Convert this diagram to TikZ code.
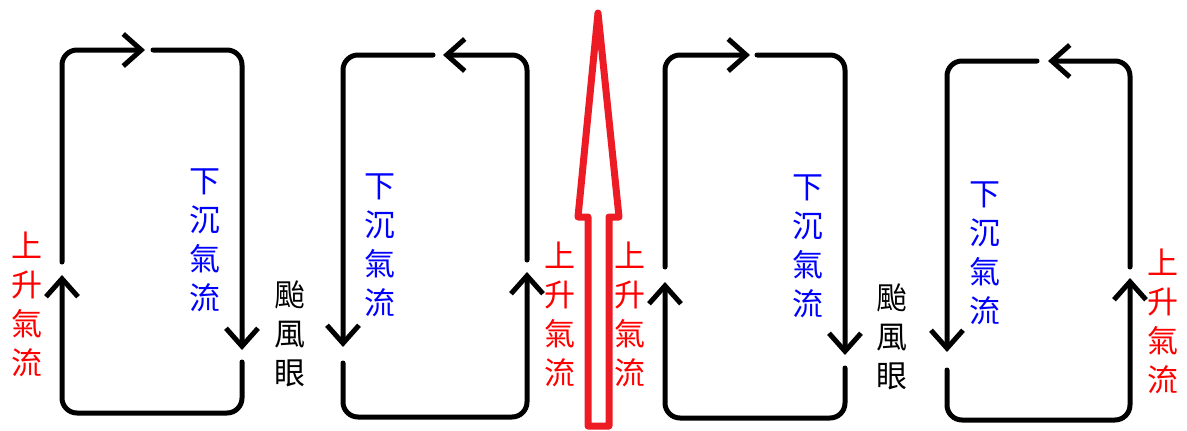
\documentclass[tikz,border=0pt]{standalone}
\usepackage{fontspec}
\newfontfamily\cjk{Noto Sans CJK TC}
\usetikzlibrary{arrows.meta}
\definecolor{arrowred}{HTML}{ED1C24}
\definecolor{txtred}{HTML}{FF0000}
\definecolor{txtblue}{HTML}{0000FF}
\begin{document}
\begin{tikzpicture}[x=1pt,y=-1pt,
  loopline/.style={line width=5pt, rounded corners=15pt, line cap=round},
  barb/.style={-{Straight Barb[length=18pt,width=32pt]}},
  vtxt/.style={font=\cjk\fontsize{31}{39}\selectfont, align=center, inner sep=0pt},
  upflow/.style={vtxt, text=txtred},
  downflow/.style={vtxt, text=txtblue},
  eyetxt/.style={vtxt, text=black},
  bigarrow/.style={draw=arrowred, line width=7pt, line join=round}]
\useasboundingbox (0,0) rectangle (1187,431);

% loop 1 (clockwise)
\draw[loopline,barb] (62,262) -- (62,50) -- (145,50);
\draw[loopline,barb] (153,50) -- (242,50) -- (242,350);
\draw[loopline,barb] (242,362) -- (242,413) -- (62,413) -- (62,275);

% loop 2 (counter-clockwise)
\draw[loopline,barb] (527,260) -- (527,55) -- (443,55);
\draw[loopline,barb] (433,55) -- (343,55) -- (343,347);
\draw[loopline,barb] (343,363) -- (343,417) -- (527,417) -- (527,272);

% loop 3 (clockwise)
\draw[loopline,barb] (665,267) -- (665,55) -- (750,55);
\draw[loopline,barb] (757,55) -- (845,55) -- (845,355);
\draw[loopline,barb] (845,368) -- (845,418) -- (665,418) -- (665,282);

% loop 4 (counter-clockwise)
\draw[loopline,barb] (1130,267) -- (1130,61) -- (1048,61);
\draw[loopline,barb] (1037,61) -- (947,61) -- (947,352);
\draw[loopline,barb] (947,370) -- (947,420) -- (1130,420) -- (1130,278);

% big red arrow
\draw[bigarrow] (598,13) -- (619,217) -- (609,217) -- (609,426) -- (588,426) -- (588,217) -- (578,217) -- cycle;

% labels
\node[upflow] (u1) at (27,304) {上\\升\\氣\\流};
\node[downflow] (d1) at (205,240) {下\\沉\\氣\\流};
\node[eyetxt] (e1) at (290,334) {颱\\風\\眼};
\node[downflow] (d2) at (380,245) {下\\沉\\氣\\流};
\node[upflow] (u2) at (560,314) {上\\升\\氣\\流};
\node[upflow] (u3) at (630,314) {上\\升\\氣\\流};
\node[downflow] (d3) at (808,246) {下\\沉\\氣\\流};
\node[eyetxt] (e2) at (892,337) {颱\\風\\眼};
\node[downflow] (d4) at (985,253) {下\\沉\\氣\\流};
\node[upflow] (u4) at (1163,321) {上\\升\\氣\\流};
\end{tikzpicture}
\end{document}
